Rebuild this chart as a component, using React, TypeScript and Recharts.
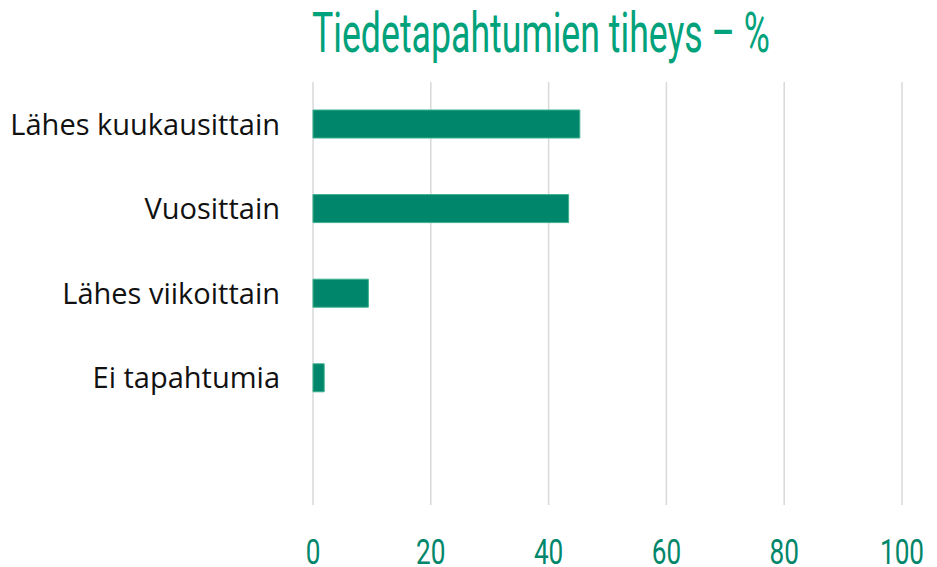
import React from 'react';
import { BarChart, Bar, XAxis, YAxis, CartesianGrid } from 'recharts';

// Frequency categories (last row is empty in the original chart)
const categories = ['Lähes kuukausittain', 'Vuosittain', 'Lähes viikoittain', 'Ei tapahtumia', ''];
const shares: Array<number | null> = [45.3, 43.4, 9.4, 1.9, null];
const xTicks = [0, 20, 40, 60, 80, 100];

const data = categories.map((name, i) => ({ name, value: shares[i] }));

const GREEN = '#00866a';
const TITLE_GREEN = '#00a27b';

// condensed look: squeeze Roboto digits with textLength
function NumberTick(props: any) {
  const { x, y, payload } = props;
  const label = String(payload.value);
  return (
    <text
      x={x}
      y={y}
      dy={51}
      textAnchor="middle"
      fill={GREEN}
      fontFamily="Roboto, sans-serif"
      fontSize={35}
      textLength={label.length * 14.7}
      lengthAdjust="spacingAndGlyphs"
    >
      {label}
    </text>
  );
}

export default function App() {
  return (
    <div style={{ position: 'absolute', left: 0, top: 0, width: 937, height: 567, background: '#fff' }}>
      <svg width={937} height={70} style={{ position: 'absolute', left: 0, top: 0 }}>
        <text
          x={312}
          y={52}
          fill={TITLE_GREEN}
          fontFamily="Roboto, sans-serif"
          fontSize={55}
          textLength={458}
          lengthAdjust="spacingAndGlyphs"
        >
          Tiedetapahtumien tiheys – %
        </text>
      </svg>
      <BarChart
        width={937}
        height={567}
        data={data}
        layout="vertical"
        margin={{ top: 82, right: 35, bottom: 0, left: 0 }}
      >
        <CartesianGrid horizontal={false} stroke="#d9d9d9" strokeWidth={1.5} />
        <XAxis
          type="number"
          domain={[0, 100]}
          ticks={xTicks}
          axisLine={false}
          tickLine={false}
          height={62}
          tick={<NumberTick />}
        />
        <YAxis
          type="category"
          dataKey="name"
          width={313}
          axisLine={false}
          tickLine={false}
          tickSize={0}
          tickMargin={33}
          tick={{ fill: '#111', fontSize: 29, fontFamily: '"Open Sans", sans-serif' }}
        />
        <Bar dataKey="value" fill={GREEN} stroke="#3fb08f" strokeWidth={1} barSize={28} isAnimationActive={false} />
      </BarChart>
    </div>
  );
}
